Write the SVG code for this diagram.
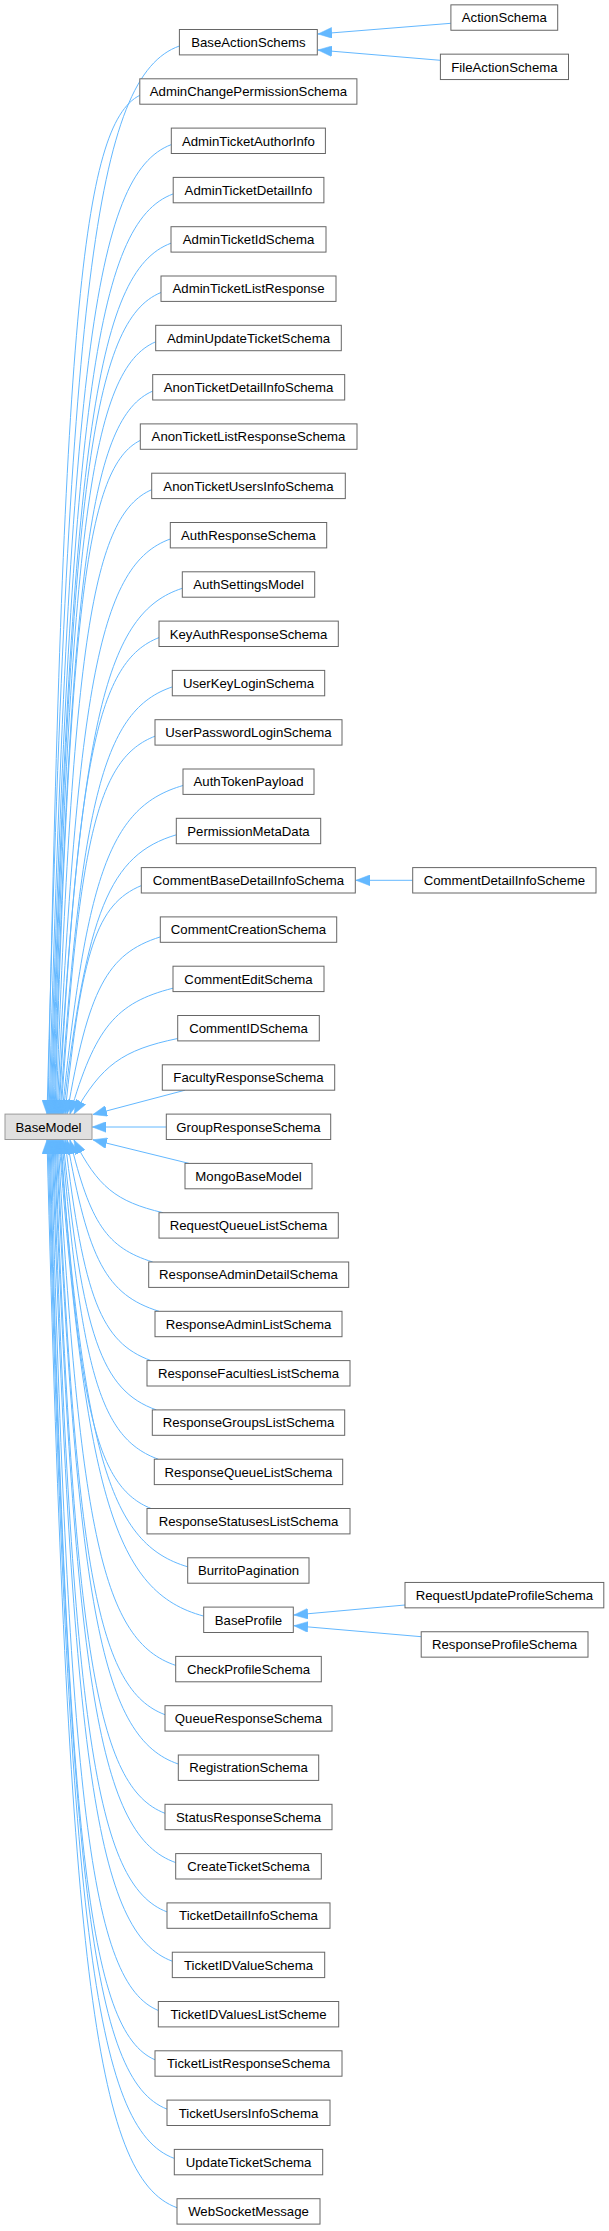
<svg xmlns="http://www.w3.org/2000/svg" width="609" height="2231" viewBox="0 0 609 2231">
<style>
.node rect{fill:#ffffff;stroke:#666666;stroke-width:1}
.focus rect{fill:#e0e0e0;stroke:#999999;stroke-width:1}
text{font-family:"Liberation Sans",Arial,Helvetica,sans-serif;font-size:13.2px;fill:#000000;text-anchor:middle}
.edge{fill:none;stroke:#63b8ff;stroke-width:1;marker-end:url(#arr)}
</style>
<defs>
<marker id="arr" markerUnits="userSpaceOnUse" markerWidth="14" markerHeight="11" viewBox="0 0 13 10" refX="13" refY="5" orient="auto">
<path d="M0,0 L13,5 L0,10 Z" fill="#63b8ff" stroke="#63b8ff" stroke-width="0.5"/>
</marker>
</defs>
<rect width="609" height="2231" fill="#ffffff"/>
<g id="edges">
<path class="edge" d="M179.4,46 C95.1,75.8 68.6,289.4 47,1114"/>
<path class="edge" d="M139.8,95.3 C81.5,124.7 63.1,328.5 48,1114"/>
<path class="edge" d="M171.3,144.6 C93.8,173.7 69.3,367.5 49,1114"/>
<path class="edge" d="M173.2,193.9 C95.3,222.6 70.7,406.6 50,1114"/>
<path class="edge" d="M171,243.2 C95.3,271.4 71.3,445.6 51,1114"/>
<path class="edge" d="M161,292.5 C92.5,320.3 70.7,484.6 52,1114"/>
<path class="edge" d="M155.7,341.8 C91.3,369.1 70.8,523.6 53,1114"/>
<path class="edge" d="M152.7,391.1 C91,417.9 71.3,562.5 54,1114"/>
<path class="edge" d="M140.3,440.4 C87.2,466.7 70.1,601.4 55,1114"/>
<path class="edge" d="M151.7,489.7 C92.4,515.4 73.2,640.3 56,1114"/>
<path class="edge" d="M170.3,539 C100.4,564.1 77.7,679.1 57,1114"/>
<path class="edge" d="M182.3,588.3 C106,612.8 81.1,717.9 58,1114"/>
<path class="edge" d="M159,637.6 C97.9,661.3 77.9,756.6 59,1114"/>
<path class="edge" d="M172.3,686.9 C104.1,709.8 81.7,795.2 60,1114"/>
<path class="edge" d="M155,736.2 C98.4,758.2 79.6,833.8 61,1114"/>
<path class="edge" d="M183,785.5 C110.7,806.5 86.5,872.2 62,1114"/>
<path class="edge" d="M176.3,834.8 C109.4,854.7 86.7,910.5 63,1114"/>
<path class="edge" d="M141.3,885.6 C96.8,904.1 81.6,949.8 65,1114"/>
<path class="edge" d="M160.3,936.9 C106.9,953.7 88.3,989.1 67,1114"/>
<path class="edge" d="M173,988.2 C115.6,1002.7 95,1027.9 70,1114"/>
<path class="edge" d="M177.7,1038.5 C122.4,1049.9 101.7,1065 74,1114"/>
<path class="edge" d="M185,1090.2 L93,1114.5"/>
<path class="edge" d="M166.3,1127 L92.3,1127"/>
<path class="edge" d="M189,1163.4 L93,1139.8"/>
<path class="edge" d="M163,1212.7 C115.7,1201.5 97.9,1186.9 74,1140"/>
<path class="edge" d="M152.7,1262 C106.8,1247.7 90.2,1223.3 70,1140"/>
<path class="edge" d="M159,1311.3 C106.5,1294.8 88.1,1260.5 67,1140"/>
<path class="edge" d="M151,1360.6 C101,1342.4 83.8,1298.2 65,1140"/>
<path class="edge" d="M156.3,1409.9 C101.3,1390.3 82.6,1336.3 63,1140"/>
<path class="edge" d="M158.3,1459.2 C100.9,1438.4 81.6,1374.5 62,1140"/>
<path class="edge" d="M151,1508.5 C96.9,1486.6 78.9,1412.9 61,1140"/>
<path class="edge" d="M187.7,1566.8 C110.2,1543.9 84.7,1458.5 60,1140"/>
<path class="edge" d="M203.7,1616.1 C115.3,1592.4 86.4,1497.2 59,1140"/>
<path class="edge" d="M175.7,1665.4 C103.4,1641 79.9,1535.9 58,1140"/>
<path class="edge" d="M165,1714.7 C98.3,1689.6 76.7,1574.6 57,1140"/>
<path class="edge" d="M178.3,1764 C102.5,1738.3 78,1613.5 56,1140"/>
<path class="edge" d="M165,1813.3 C96.5,1787 74.5,1652.3 55,1140"/>
<path class="edge" d="M175.7,1862.6 C99.7,1835.8 75.3,1691.3 54,1140"/>
<path class="edge" d="M167,1911.9 C95.5,1884.6 72.7,1730.2 53,1140"/>
<path class="edge" d="M172.3,1961.2 C96.7,1933.4 72.6,1769.2 52,1140"/>
<path class="edge" d="M158.3,2010.5 C90.6,1982.3 69.2,1808.2 51,1140"/>
<path class="edge" d="M155,2059.8 C88.6,2031.1 67.6,1847.2 50,1140"/>
<path class="edge" d="M167,2109.1 C92.2,2080 68.6,1886.2 49,1140"/>
<path class="edge" d="M174.3,2158.4 C94.1,2129 68.8,1925.3 48,1140"/>
<path class="edge" d="M177,2207.7 C94.3,2177.9 68.3,1964.4 47,1140"/>
<path class="edge" d="M450.9,23.3 L318,34"/>
<path class="edge" d="M440.4,60.3 L318,50"/>
<path class="edge" d="M412.7,880.3 L356,880.3"/>
<path class="edge" d="M405,1605 L294,1615"/>
<path class="edge" d="M421.2,1636.7 L294,1625.7"/>
</g>
<g id="BaseModel" class="focus"><rect x="5" y="1114.1" width="87" height="25.4"/><text x="48.5" y="1131.5">BaseModel</text></g>
<g id="BaseActionSchems" class="node"><rect x="179.4" y="29.5" width="137.9" height="25.4"/><text x="248.4" y="46.9">BaseActionSchems</text></g>
<g id="ActionSchema" class="node"><rect x="450.9" y="4.85" width="106.8" height="25.4"/><text x="504.3" y="22.25">ActionSchema</text></g>
<g id="FileActionSchema" class="node"><rect x="440.4" y="54.15" width="128.1" height="25.4"/><text x="504.4" y="71.55">FileActionSchema</text></g>
<g id="AdminChangePermissionSchema" class="node"><rect x="139.8" y="78.8" width="217.1" height="25.4"/><text x="248.4" y="96.2">AdminChangePermissionSchema</text></g>
<g id="AdminTicketAuthorInfo" class="node"><rect x="171.3" y="128.1" width="154.1" height="25.4"/><text x="248.4" y="145.5">AdminTicketAuthorInfo</text></g>
<g id="AdminTicketDetailInfo" class="node"><rect x="173.2" y="177.4" width="150.7" height="25.4"/><text x="248.5" y="194.8">AdminTicketDetailInfo</text></g>
<g id="AdminTicketIdSchema" class="node"><rect x="171" y="226.7" width="155" height="25.4"/><text x="248.5" y="244.1">AdminTicketIdSchema</text></g>
<g id="AdminTicketListResponse" class="node"><rect x="161" y="276" width="175" height="25.4"/><text x="248.5" y="293.4">AdminTicketListResponse</text></g>
<g id="AdminUpdateTicketSchema" class="node"><rect x="155.7" y="325.3" width="185.6" height="25.4"/><text x="248.5" y="342.7">AdminUpdateTicketSchema</text></g>
<g id="AnonTicketDetailInfoSchema" class="node"><rect x="152.7" y="374.6" width="192" height="25.4"/><text x="248.5" y="392">AnonTicketDetailInfoSchema</text></g>
<g id="AnonTicketListResponseSchema" class="node"><rect x="140.3" y="423.9" width="216.7" height="25.4"/><text x="248.5" y="441.3">AnonTicketListResponseSchema</text></g>
<g id="AnonTicketUsersInfoSchema" class="node"><rect x="151.7" y="473.2" width="193.6" height="25.4"/><text x="248.5" y="490.6">AnonTicketUsersInfoSchema</text></g>
<g id="AuthResponseSchema" class="node"><rect x="170.3" y="522.5" width="156.4" height="25.4"/><text x="248.5" y="539.9">AuthResponseSchema</text></g>
<g id="AuthSettingsModel" class="node"><rect x="182.3" y="571.8" width="132.4" height="25.4"/><text x="248.5" y="589.2">AuthSettingsModel</text></g>
<g id="KeyAuthResponseSchema" class="node"><rect x="159" y="621.1" width="179.3" height="25.4"/><text x="248.5" y="638.5">KeyAuthResponseSchema</text></g>
<g id="UserKeyLoginSchema" class="node"><rect x="172.3" y="670.4" width="152.4" height="25.4"/><text x="248.5" y="687.8">UserKeyLoginSchema</text></g>
<g id="UserPasswordLoginSchema" class="node"><rect x="155" y="719.7" width="187" height="25.4"/><text x="248.5" y="737.1">UserPasswordLoginSchema</text></g>
<g id="AuthTokenPayload" class="node"><rect x="183" y="769" width="131" height="25.4"/><text x="248.5" y="786.4">AuthTokenPayload</text></g>
<g id="PermissionMetaData" class="node"><rect x="176.3" y="818.3" width="144.4" height="25.4"/><text x="248.5" y="835.7">PermissionMetaData</text></g>
<g id="CommentBaseDetailInfoSchema" class="node"><rect x="141.3" y="867.6" width="214" height="25.4"/><text x="248.5" y="885">CommentBaseDetailInfoSchema</text></g>
<g id="CommentDetailInfoScheme" class="node"><rect x="412.7" y="867.6" width="183.3" height="25.4"/><text x="504.4" y="885">CommentDetailInfoScheme</text></g>
<g id="CommentCreationSchema" class="node"><rect x="160.3" y="916.9" width="176.4" height="25.4"/><text x="248.5" y="934.3">CommentCreationSchema</text></g>
<g id="CommentEditSchema" class="node"><rect x="173" y="966.2" width="151" height="25.4"/><text x="248.5" y="983.6">CommentEditSchema</text></g>
<g id="CommentIDSchema" class="node"><rect x="177.7" y="1015.5" width="141.6" height="25.4"/><text x="248.5" y="1032.9">CommentIDSchema</text></g>
<g id="FacultyResponseSchema" class="node"><rect x="162.3" y="1064.8" width="172.4" height="25.4"/><text x="248.5" y="1082.2">FacultyResponseSchema</text></g>
<g id="GroupResponseSchema" class="node"><rect x="166.3" y="1114.1" width="164.4" height="25.4"/><text x="248.5" y="1131.5">GroupResponseSchema</text></g>
<g id="MongoBaseModel" class="node"><rect x="185" y="1163.4" width="127" height="25.4"/><text x="248.5" y="1180.8">MongoBaseModel</text></g>
<g id="RequestQueueListSchema" class="node"><rect x="159" y="1212.7" width="179.3" height="25.4"/><text x="248.5" y="1230.1">RequestQueueListSchema</text></g>
<g id="ResponseAdminDetailSchema" class="node"><rect x="148.7" y="1262" width="200" height="25.4"/><text x="248.5" y="1279.4">ResponseAdminDetailSchema</text></g>
<g id="ResponseAdminListSchema" class="node"><rect x="155" y="1311.3" width="187" height="25.4"/><text x="248.5" y="1328.7">ResponseAdminListSchema</text></g>
<g id="ResponseFacultiesListSchema" class="node"><rect x="147" y="1360.6" width="203" height="25.4"/><text x="248.5" y="1378">ResponseFacultiesListSchema</text></g>
<g id="ResponseGroupsListSchema" class="node"><rect x="152.3" y="1409.9" width="192.4" height="25.4"/><text x="248.5" y="1427.3">ResponseGroupsListSchema</text></g>
<g id="ResponseQueueListSchema" class="node"><rect x="154.3" y="1459.2" width="188.4" height="25.4"/><text x="248.5" y="1476.6">ResponseQueueListSchema</text></g>
<g id="ResponseStatusesListSchema" class="node"><rect x="147" y="1508.5" width="203" height="25.4"/><text x="248.5" y="1525.9">ResponseStatusesListSchema</text></g>
<g id="BurritoPagination" class="node"><rect x="187.7" y="1557.8" width="121.3" height="25.4"/><text x="248.5" y="1575.2">BurritoPagination</text></g>
<g id="BaseProfile" class="node"><rect x="203.7" y="1607.1" width="89.6" height="25.4"/><text x="248.5" y="1624.5">BaseProfile</text></g>
<g id="RequestUpdateProfileSchema" class="node"><rect x="405" y="1582.45" width="198.8" height="25.4"/><text x="504.4" y="1599.85">RequestUpdateProfileSchema</text></g>
<g id="ResponseProfileSchema" class="node"><rect x="421.2" y="1631.75" width="166.8" height="25.4"/><text x="504.6" y="1649.15">ResponseProfileSchema</text></g>
<g id="CheckProfileSchema" class="node"><rect x="175.7" y="1656.4" width="145.6" height="25.4"/><text x="248.5" y="1673.8">CheckProfileSchema</text></g>
<g id="QueueResponseSchema" class="node"><rect x="165" y="1705.7" width="167" height="25.4"/><text x="248.5" y="1723.1">QueueResponseSchema</text></g>
<g id="RegistrationSchema" class="node"><rect x="178.3" y="1755" width="140.4" height="25.4"/><text x="248.5" y="1772.4">RegistrationSchema</text></g>
<g id="StatusResponseSchema" class="node"><rect x="165" y="1804.3" width="167" height="25.4"/><text x="248.5" y="1821.7">StatusResponseSchema</text></g>
<g id="CreateTicketSchema" class="node"><rect x="175.7" y="1853.6" width="145.6" height="25.4"/><text x="248.5" y="1871">CreateTicketSchema</text></g>
<g id="TicketDetailInfoSchema" class="node"><rect x="167" y="1902.9" width="163" height="25.4"/><text x="248.5" y="1920.3">TicketDetailInfoSchema</text></g>
<g id="TicketIDValueSchema" class="node"><rect x="172.3" y="1952.2" width="152.4" height="25.4"/><text x="248.5" y="1969.6">TicketIDValueSchema</text></g>
<g id="TicketIDValuesListScheme" class="node"><rect x="158.3" y="2001.5" width="180.4" height="25.4"/><text x="248.5" y="2018.9">TicketIDValuesListScheme</text></g>
<g id="TicketListResponseSchema" class="node"><rect x="155" y="2050.8" width="187" height="25.4"/><text x="248.5" y="2068.2">TicketListResponseSchema</text></g>
<g id="TicketUsersInfoSchema" class="node"><rect x="167" y="2100.1" width="163" height="25.4"/><text x="248.5" y="2117.5">TicketUsersInfoSchema</text></g>
<g id="UpdateTicketSchema" class="node"><rect x="174.3" y="2149.4" width="148.4" height="25.4"/><text x="248.5" y="2166.8">UpdateTicketSchema</text></g>
<g id="WebSocketMessage" class="node"><rect x="177" y="2198.7" width="143" height="25.4"/><text x="248.5" y="2216.1">WebSocketMessage</text></g>
</svg>
